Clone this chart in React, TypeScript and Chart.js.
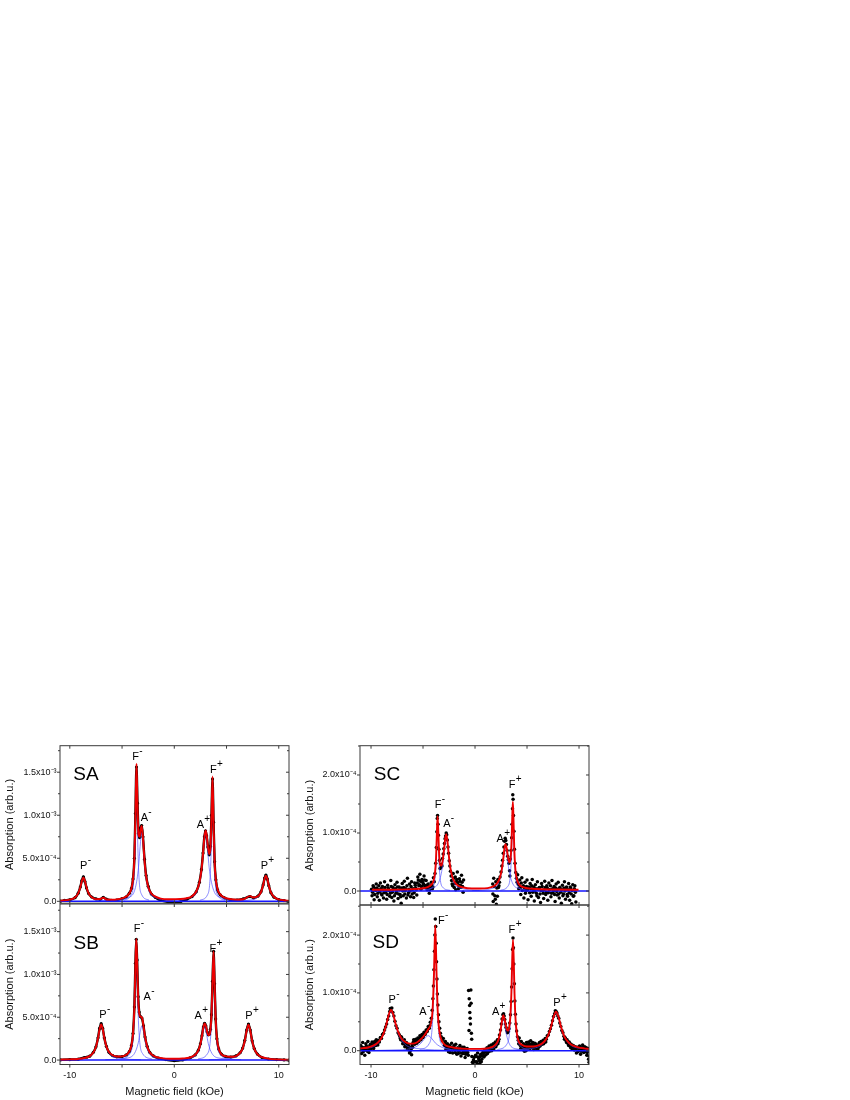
import React, { useEffect, useRef } from 'react';
import { Chart, registerables } from 'chart.js';

Chart.register(...registerables);

const FONT = "'Liberation Sans', Arial, Helvetica, sans-serif";
Chart.defaults.font.family = FONT;

type Pt = [number, number];

// ---------- shared axis data ----------
const X_MAJOR = [-10, -5, 0, 5, 10];
const X_LABEL_VALUES = [-10, 0, 10];
const X_LABELS = ['-10', '0', '10'];
const BASELINE_LEVEL = 0;

// SA / SB y axis (values in units of 1e-4)
const Y_TICKS_AB = [0, 5, 10, 15];
const Y_LABELS_AB = ['0.0', '5.0x10\u207B\u2074', '1.0x10\u207B\u00B3', '1.5x10\u207B\u00B3'];
const Y_MINOR_AB = [2.5, 7.5, 12.5, 17.5];
// SC / SD y axis (values in units of 1e-5)
const Y_TICKS_CD = [0, 10, 20];
const Y_LABELS_CD = ['0.0', '1.0x10\u207B\u2074', '2.0x10\u207B\u2074'];
const Y_MINOR_CD = [5, 15, 25];

// ---------- SA ----------
const SA_FIT: Pt[] = [
  [-10.94, 0.08], [-10.0, 0.2], [-9.5, 0.45], [-9.2, 0.92], [-9.0, 1.6], [-8.85, 2.33], [-8.7, 2.77], [-8.55, 2.34],
  [-8.4, 1.61], [-8.2, 0.93], [-7.9, 0.47], [-7.5, 0.25], [-7.1, 0.27], [-6.8, 0.42], [-6.5, 0.21], [-6.0, 0.2],
  [-5.5, 0.22], [-5.0, 0.33], [-4.6, 0.55], [-4.3, 0.93], [-4.1, 1.52], [-3.95, 2.57], [-3.82, 4.97], [-3.72, 9.88],
  [-3.62, 16.0], [-3.52, 11.1], [-3.42, 7.7], [-3.32, 7.5], [-3.22, 8.36], [-3.12, 8.77], [-3.0, 7.4], [-2.85, 4.76],
  [-2.7, 2.95], [-2.5, 1.7], [-2.2, 0.9], [-1.8, 0.55], [-1.3, 0.32], [-0.6, 0.24], [0, 0.25], [0.6, 0.26],
  [1.2, 0.36], [1.7, 0.6], [2.1, 1.14], [2.4, 2.16], [2.6, 3.66], [2.75, 5.54], [2.88, 7.42], [2.99, 8.22],
  [3.1, 7.68], [3.22, 6.36], [3.34, 5.5], [3.46, 6.2], [3.56, 9.7], [3.66, 14.5], [3.76, 8.9], [3.86, 4.5],
  [3.98, 2.45], [4.15, 1.38], [4.4, 0.8], [4.8, 0.44], [5.4, 0.25], [6.0, 0.2], [6.6, 0.24], [7.25, 0.6],
  [7.6, 0.45], [8.0, 0.58], [8.3, 1.08], [8.5, 1.87], [8.65, 2.66], [8.77, 2.97], [8.9, 2.61], [9.05, 1.82],
  [9.25, 1.04], [9.55, 0.5], [10.0, 0.23], [10.5, 0.12], [10.98, 0.07],
];
const SA_DATA: Pt[] = [
  [-10.9, 0.02], [-10.5, 0.1], [-10.0, 0.18], [-9.5, 0.42], [-9.2, 0.95], [-9.0, 1.65], [-8.85, 2.4], [-8.7, 2.85],
  [-8.55, 2.3], [-8.4, 1.55], [-8.2, 0.9], [-7.9, 0.5], [-7.5, 0.28], [-7.1, 0.22], [-6.8, 0.45], [-6.5, 0.25],
  [-6.0, 0.12], [-5.5, 0.15], [-5.0, 0.3], [-4.6, 0.52], [-4.3, 0.95], [-4.1, 1.5], [-3.95, 2.6], [-3.82, 5.0],
  [-3.72, 10.2], [-3.62, 15.6], [-3.52, 11.4], [-3.42, 7.9], [-3.32, 7.4], [-3.22, 8.5], [-3.12, 8.8], [-3.0, 7.5],
  [-2.85, 4.9], [-2.7, 3.0], [-2.5, 1.75], [-2.2, 0.85], [-1.8, 0.45], [-1.3, 0.1], [-0.6, -0.08], [0, -0.12],
  [0.6, -0.05], [1.2, 0.25], [1.7, 0.55], [2.1, 1.1], [2.4, 2.2], [2.6, 3.7], [2.75, 5.6], [2.88, 7.5],
  [2.99, 8.2], [3.1, 7.6], [3.22, 6.3], [3.34, 5.4], [3.46, 6.4], [3.56, 10.0], [3.66, 14.2], [3.76, 9.2],
  [3.86, 4.6], [3.98, 2.5], [4.15, 1.3], [4.4, 0.75], [4.8, 0.4], [5.4, 0.18], [6.0, 0.15], [6.6, 0.28],
  [7.25, 0.55], [7.6, 0.4], [8.0, 0.6], [8.3, 1.1], [8.5, 1.9], [8.65, 2.7], [8.77, 3.05], [8.9, 2.6],
  [9.05, 1.8], [9.25, 1.0], [9.55, 0.48], [10.0, 0.2], [10.5, 0.08], [10.98, -0.05],
];
const SA_P_MINUS: Pt[] = [[-12.2, 0.027], [-10.1, 0.162], [-9.4, 0.55], [-9.05, 1.375], [-8.875, 2.2], [-8.7, 2.75], [-8.525, 2.2], [-8.35, 1.375], [-8.0, 0.55], [-7.3, 0.162], [-5.2, 0.027]];
const SA_F_MINUS: Pt[] = [[-4.82, 0.139], [-4.1, 0.82], [-3.86, 2.8], [-3.74, 7.0], [-3.68, 11.2], [-3.62, 14.0], [-3.56, 11.2], [-3.5, 7.0], [-3.38, 2.8], [-3.14, 0.82], [-2.42, 0.139]];
const SA_A_MINUS: Pt[] = [[-6.12, 0.079], [-4.32, 0.47], [-3.72, 1.6], [-3.42, 4.0], [-3.27, 6.4], [-3.12, 8.0], [-2.97, 6.4], [-2.82, 4.0], [-2.52, 1.6], [-1.92, 0.47], [-0.12, 0.079]];
const SA_A_PLUS: Pt[] = [[-0.51, 0.077], [1.59, 0.459], [2.29, 1.56], [2.64, 3.9], [2.815, 6.24], [2.99, 7.8], [3.165, 6.24], [3.34, 3.9], [3.69, 1.56], [4.39, 0.459], [6.49, 0.077]];
const SA_F_PLUS: Pt[] = [[2.46, 0.127], [3.18, 0.753], [3.42, 2.56], [3.54, 6.4], [3.6, 10.24], [3.66, 12.8], [3.72, 10.24], [3.78, 6.4], [3.9, 2.56], [4.14, 0.753], [4.86, 0.127]];
const SA_P_PLUS: Pt[] = [[5.27, 0.029], [7.37, 0.173], [8.07, 0.59], [8.42, 1.475], [8.595, 2.36], [8.77, 2.95], [8.945, 2.36], [9.12, 1.475], [9.47, 0.59], [10.17, 0.173], [12.27, 0.029]];

// ---------- SB ----------
const SB_FIT: Pt[] = [
  [-10.94, 0.05], [-10.0, 0.08], [-9.2, 0.13], [-8.6, 0.24], [-8.1, 0.46], [-7.75, 0.87], [-7.5, 1.53], [-7.3, 2.56],
  [-7.15, 3.58], [-7.0, 4.16], [-6.85, 3.62], [-6.7, 2.61], [-6.5, 1.6], [-6.25, 0.94], [-5.9, 0.56], [-5.5, 0.41],
  [-5.0, 0.43], [-4.6, 0.61], [-4.3, 1.01], [-4.1, 1.73], [-3.95, 3.07], [-3.82, 6.1], [-3.72, 11.07], [-3.64, 14.15],
  [-3.56, 11.55], [-3.46, 7.28], [-3.36, 5.5], [-3.25, 5.08], [-3.1, 4.98], [-2.95, 3.99], [-2.8, 2.73], [-2.6, 1.6],
  [-2.35, 0.92], [-2.0, 0.5], [-1.5, 0.28], [-0.8, 0.17], [0, 0.15], [0.8, 0.18], [1.5, 0.3], [2.0, 0.62],
  [2.3, 1.14], [2.5, 1.88], [2.65, 2.82], [2.78, 3.8], [2.9, 4.27], [3.02, 4.0], [3.14, 3.35], [3.26, 2.92],
  [3.36, 2.94], [3.46, 3.55], [3.56, 5.24], [3.66, 9.1], [3.76, 12.7], [3.86, 8.85], [3.96, 4.77], [4.08, 2.53],
  [4.25, 1.33], [4.5, 0.7], [4.9, 0.45], [5.4, 0.38], [5.9, 0.47], [6.3, 0.83], [6.55, 1.38], [6.75, 2.26],
  [6.93, 3.46], [7.1, 4.14], [7.27, 3.45], [7.45, 2.24], [7.65, 1.34], [7.95, 0.7], [8.4, 0.33], [9.0, 0.17],
  [9.8, 0.08], [10.5, 0.05], [10.98, 0.04],
];
const SB_DATA: Pt[] = [
  [-10.9, 0.02], [-10.0, 0.06], [-9.2, 0.1], [-8.6, 0.3], [-8.35, 0.35], [-8.1, 0.45], [-7.75, 0.9], [-7.5, 1.55],
  [-7.3, 2.6], [-7.15, 3.7], [-7.0, 4.25], [-6.85, 3.7], [-6.7, 2.6], [-6.5, 1.6], [-6.25, 0.9], [-5.9, 0.52],
  [-5.5, 0.38], [-5.0, 0.4], [-4.6, 0.6], [-4.3, 1.0], [-4.1, 1.7], [-3.95, 3.1], [-3.82, 6.2], [-3.72, 11.3],
  [-3.64, 14.1], [-3.56, 11.7], [-3.46, 7.4], [-3.36, 5.6], [-3.25, 5.1], [-3.1, 4.9], [-2.95, 4.0], [-2.8, 2.7],
  [-2.6, 1.6], [-2.35, 0.9], [-2.0, 0.48], [-1.5, 0.22], [-0.8, 0.05], [0, -0.08], [0.8, 0.02], [1.5, 0.25],
  [2.0, 0.6], [2.3, 1.15], [2.5, 1.9], [2.65, 2.85], [2.78, 3.85], [2.9, 4.3], [3.02, 4.0], [3.14, 3.3],
  [3.26, 2.95], [3.36, 3.0], [3.46, 3.6], [3.56, 5.3], [3.66, 9.2], [3.76, 12.7], [3.86, 8.9], [3.96, 4.8],
  [4.08, 2.5], [4.25, 1.3], [4.5, 0.7], [4.9, 0.42], [5.4, 0.35], [5.9, 0.48], [6.3, 0.85], [6.55, 1.4],
  [6.75, 2.3], [6.93, 3.5], [7.1, 4.2], [7.27, 3.5], [7.45, 2.25], [7.65, 1.35], [7.95, 0.7], [8.4, 0.3],
  [9.0, 0.12], [9.8, 0.05], [10.5, 0.02], [10.98, -0.02],
];
const SB_P_MINUS: Pt[] = [[-10.8, 0.041], [-8.52, 0.241], [-7.76, 0.82], [-7.38, 2.05], [-7.19, 3.28], [-7.0, 4.1], [-6.81, 3.28], [-6.62, 2.05], [-6.24, 0.82], [-5.48, 0.241], [-3.2, 0.041]];
const SB_F_MINUS: Pt[] = [[-5.14, 0.128], [-4.24, 0.759], [-3.94, 2.58], [-3.79, 6.45], [-3.715, 10.32], [-3.64, 12.9], [-3.565, 10.32], [-3.49, 6.45], [-3.34, 2.58], [-3.04, 0.759], [-2.14, 0.128]];
const SB_A_MINUS: Pt[] = [[-6.6, 0.04], [-4.5, 0.235], [-3.8, 0.8], [-3.45, 2.0], [-3.275, 3.2], [-3.1, 4.0], [-2.925, 3.2], [-2.75, 2.0], [-2.4, 0.8], [-1.7, 0.235], [0.4, 0.04]];
const SB_A_PLUS: Pt[] = [[-0.6, 0.039], [1.5, 0.229], [2.2, 0.78], [2.55, 1.95], [2.725, 3.12], [2.9, 3.9], [3.075, 3.12], [3.25, 1.95], [3.6, 0.78], [4.3, 0.229], [6.4, 0.039]];
const SB_F_PLUS: Pt[] = [[2.26, 0.12], [3.16, 0.711], [3.46, 2.42], [3.61, 6.05], [3.685, 9.68], [3.76, 12.1], [3.835, 9.68], [3.91, 6.05], [4.06, 2.42], [4.36, 0.711], [5.26, 0.12]];
const SB_P_PLUS: Pt[] = [[3.3, 0.041], [5.58, 0.241], [6.34, 0.82], [6.72, 2.05], [6.91, 3.28], [7.1, 4.1], [7.29, 3.28], [7.48, 2.05], [7.86, 0.82], [8.62, 0.241], [10.9, 0.041]];

// ---------- SC ----------
const SC_FIT: Pt[] = [
  [-9.9, 0.22], [-8.0, 0.23], [-6.0, 0.32], [-5.0, 0.47], [-4.5, 0.71], [-4.2, 1.09], [-4.0, 1.74], [-3.85, 3.1],
  [-3.75, 5.59], [-3.67, 9.83], [-3.6, 12.9], [-3.53, 10.16], [-3.45, 6.35], [-3.35, 4.48], [-3.22, 4.38], [-3.1, 5.37],
  [-2.98, 7.15], [-2.88, 8.87], [-2.77, 9.8], [-2.65, 8.58], [-2.52, 6.14], [-2.38, 4.06], [-2.2, 2.53], [-1.95, 1.5],
  [-1.6, 0.9], [-1.1, 0.6], [-0.3, 0.44], [0.5, 0.43], [1.2, 0.5], [1.7, 0.75], [2.1, 1.28], [2.35, 2.1],
  [2.55, 3.46], [2.7, 5.36], [2.82, 7.2], [2.93, 8.09], [3.05, 7.33], [3.18, 5.74], [3.3, 4.94], [3.42, 5.64],
  [3.52, 8.86], [3.58, 12.8], [3.64, 15.4], [3.7, 12.4], [3.77, 7.55], [3.86, 4.19], [3.98, 2.38], [4.15, 1.41],
  [4.4, 0.88], [4.8, 0.56], [5.5, 0.39], [6.5, 0.3], [8.0, 0.25], [9.95, 0.22],
];
const SC_DATA: Pt[] = [
  [-9.9, -0.8], [-9.8, 0.9], [-9.7, -1.5], [-9.6, 0.4], [-9.5, 1.2], [-9.4, -1.0], [-9.3, 0.2], [-9.2, -1.6], [-9.1, 1.4], [-9.0, -0.5],
  [-8.9, 0.8], [-8.8, -1.2], [-8.7, 1.6], [-8.6, -0.2], [-8.5, -1.4], [-8.4, 1.0], [-8.3, 0.3], [-8.2, -0.9], [-8.1, 1.8], [-8.0, -1.1],
  [-7.9, 0.6], [-7.8, -1.7], [-7.7, 1.1], [-7.6, -0.4], [-7.5, 1.5], [-7.4, -1.3], [-7.3, 0.7], [-7.2, -0.6], [-7.1, -2.1], [-7.0, 1.3],
  [-6.9, -0.8], [-6.8, 1.7], [-6.7, 0.1], [-6.6, -1.2], [-6.5, 2.2], [-6.4, -0.3], [-6.3, 1.2], [-6.2, -1.0], [-6.1, 1.6], [-6.0, 0.2],
  [-5.9, -1.1], [-5.8, 1.4], [-5.7, 0.5], [-5.6, -0.7], [-5.5, 2.4], [-5.4, 0.9], [-5.3, 2.9], [-5.2, 0.3], [-5.1, 2.0], [-5.0, 1.0],
  [-4.9, 2.6], [-4.8, 0.6], [-4.7, 1.8], [-4.6, 0.2], [-4.5, 1.2], [-4.4, -0.4], [-4.3, 0.8], [-4.2, 1.5], [-4.1, 0.4], [-4.0, 2.3],
  [-3.92, 1.6], [-3.85, 3.0], [-3.78, 4.8], [-3.72, 7.5], [-3.67, 10.2], [-3.63, 12.5], [-3.6, 13.0], [-3.56, 11.5], [-3.52, 9.6], [-3.47, 7.2],
  [-3.42, 5.3], [-3.36, 3.9], [-3.3, 4.0], [-3.24, 4.6], [-3.18, 4.3], [-3.12, 5.6], [-3.06, 6.4], [-3.0, 7.3], [-2.94, 8.2], [-2.88, 9.0],
  [-2.83, 9.5], [-2.77, 10.0], [-2.72, 9.7], [-2.66, 8.8], [-2.6, 7.6], [-2.54, 6.5], [-2.48, 5.2], [-2.42, 4.3], [-2.36, 3.4],
  [-2.3, 2.6], [-2.2, 1.2], [-2.1, 3.0], [-2.0, 0.6], [-1.9, 2.4], [-1.8, 1.6], [-1.7, 3.3], [-1.6, 0.4], [-1.5, 2.1], [-1.4, 1.0],
  [-1.3, 2.7], [-1.2, 0.8], [-1.1, 1.9],
  [1.7, 1.2], [1.75, -1.8], [1.8, 2.2], [1.9, -0.8], [2.0, 1.6], [2.05, -2.3], [2.1, 0.5], [2.2, 2.0], [2.3, 0.9], [2.4, 2.4],
  [2.5, 3.3], [2.58, 4.3], [2.65, 5.3], [2.72, 6.5], [2.78, 7.6], [2.84, 8.6], [2.9, 9.1], [2.96, 8.7], [3.02, 8.0], [3.08, 7.0],
  [3.14, 6.0], [3.2, 5.4], [3.26, 4.8], [3.32, 3.5], [3.35, 2.6], [3.4, 5.5], [3.46, 7.0], [3.52, 9.2], [3.56, 11.5], [3.6, 14.2],
  [3.63, 16.6], [3.66, 15.8], [3.7, 13.0], [3.74, 10.3], [3.79, 7.2], [3.85, 4.8], [3.92, 3.2], [3.98, 2.2], [4.05, 1.5],
  [4.1, 2.8], [4.2, 0.4], [4.3, 1.9], [4.4, -0.6], [4.5, 2.3], [4.6, 0.8], [4.7, -1.2], [4.8, 1.5], [4.9, 0.0], [5.0, 1.9],
  [5.1, -1.5], [5.2, 0.7], [5.3, 1.3], [5.4, -0.9], [5.5, 2.0], [5.6, 0.3], [5.7, -1.7], [5.8, 1.1], [5.9, -0.4], [6.0, 1.6],
  [6.1, -1.1], [6.2, 0.6], [6.3, -2.0], [6.4, 1.3], [6.5, 0.1], [6.6, -1.3], [6.7, 1.7], [6.8, -0.6], [6.9, 0.9], [7.0, -1.6],
  [7.1, 1.4], [7.2, 0.2], [7.3, -1.0], [7.4, 1.8], [7.5, -0.3], [7.6, 0.8], [7.7, -1.8], [7.8, 1.2], [7.9, -0.7], [8.0, 1.5],
  [8.1, -1.2], [8.2, 0.4], [8.3, -2.1], [8.4, 1.0], [8.5, -0.5], [8.6, 1.6], [8.7, -1.4], [8.8, 0.7], [8.9, -0.9], [9.0, 1.3],
  [9.1, -1.6], [9.2, 0.5], [9.3, -2.2], [9.4, 1.1], [9.5, -0.8], [9.6, 0.9], [9.7, -1.9],
];
// further scattered points of the SC noise cloud
const SC_DATA_CLOUD: Pt[] = [
  [-9.95, 0.3], [-9.85, -0.2], [-9.75, 0.7], [-9.65, -0.6], [-9.55, 0.1], [-9.45, 0.5], [-9.35, -0.4], [-9.25, 0.9], [-9.15, -0.1], [-9.05, 0.4],
  [-8.95, -0.7], [-8.85, 0.2], [-8.75, -0.3], [-8.65, 0.6], [-8.55, 0.0], [-8.45, -0.6], [-8.35, 0.5], [-8.25, 0.1], [-8.15, -0.4], [-8.05, 0.8],
  [-7.95, -0.2], [-7.85, 0.3], [-7.75, -0.8], [-7.65, 0.4], [-7.55, -0.1], [-7.45, 0.7], [-7.35, -0.5], [-7.25, 0.2], [-7.15, -1.0], [-7.05, 0.5],
  [-6.95, 0.0], [-6.85, 0.6], [-6.75, -0.5], [-6.65, 0.4], [-6.55, 0.9], [-6.45, -0.7], [-6.35, 0.3], [-6.25, 0.0], [-6.15, 0.8], [-6.05, -0.5],
  [-5.95, 0.4], [-5.85, -0.3], [-5.75, 1.0], [-5.65, 0.2], [-5.55, 1.4], [-5.45, 1.9], [-5.35, 1.1], [-5.25, 1.7], [-5.15, 0.8], [-5.05, 1.5],
  [-4.95, 1.2], [-4.85, 1.9], [-4.75, 0.9], [-4.65, 1.0], [-4.55, 0.5], [-4.45, 0.8], [-4.35, 0.2], [-4.25, 0.6], [-4.15, 1.1], [-4.05, 0.7],
  [-2.25, 1.8], [-2.15, 0.9], [-2.05, 2.2], [-1.95, 1.3], [-1.85, 0.2], [-1.75, 2.0], [-1.65, 1.4], [-1.55, 0.9], [-1.45, 1.7], [-1.35, 0.6],
  [-1.25, 1.5], [-1.15, -0.2],
  [1.72, -0.5], [1.85, 0.8], [1.95, -1.4], [2.15, -0.9], [2.25, 0.6], [2.35, 1.5],
  [4.15, 1.2], [4.25, 1.0], [4.35, 0.5], [4.45, 1.4], [4.55, 0.1], [4.65, 0.9], [4.75, 0.3], [4.85, -0.4], [4.95, 0.8], [5.05, 0.2],
  [5.15, 0.6], [5.25, -0.3], [5.35, 0.4], [5.45, 0.9], [5.55, -0.2], [5.65, 0.7], [5.75, 0.0], [5.85, 0.4], [5.95, -0.8], [6.05, 0.3],
  [6.15, 0.5], [6.25, -0.5], [6.35, 0.1], [6.45, 0.8], [6.55, -0.4], [6.65, 0.2], [6.75, 0.6], [6.85, -0.2], [6.95, 0.5], [7.05, -0.3],
  [7.15, 0.2], [7.25, 0.9], [7.35, -0.4], [7.45, 0.4], [7.55, 0.1], [7.65, -0.6], [7.75, 0.5], [7.85, -0.1], [7.95, 0.3], [8.05, -0.5],
  [8.15, 0.6], [8.25, -0.2], [8.35, 0.2], [8.45, -0.8], [8.55, 0.5], [8.65, 0.0], [8.75, 0.4], [8.85, -0.6], [8.95, 0.2], [9.05, -0.3],
  [9.15, 0.7], [9.25, -0.5], [9.35, 0.1], [9.45, -0.9], [9.55, 0.4], [9.65, -0.2],
];
const SC_F_MINUS: Pt[] = [[-4.8, 0.114], [-4.08, 0.676], [-3.84, 2.3], [-3.72, 5.75], [-3.66, 9.2], [-3.6, 11.5], [-3.54, 9.2], [-3.48, 5.75], [-3.36, 2.3], [-3.12, 0.676], [-2.4, 0.114]];
const SC_A_MINUS: Pt[] = [[-5.97, 0.093], [-4.05, 0.55], [-3.41, 1.87], [-3.09, 4.68], [-2.93, 7.49], [-2.77, 9.36], [-2.61, 7.49], [-2.45, 4.68], [-2.13, 1.87], [-1.49, 0.55], [0.43, 0.093]];
const SC_A_PLUS: Pt[] = [[-0.27, 0.074], [1.65, 0.441], [2.29, 1.5], [2.61, 3.75], [2.77, 6.0], [2.93, 7.5], [3.09, 6.0], [3.25, 3.75], [3.57, 1.5], [4.21, 0.441], [6.13, 0.074]];
const SC_F_PLUS: Pt[] = [[2.44, 0.138], [3.16, 0.817], [3.4, 2.78], [3.52, 6.95], [3.58, 11.12], [3.64, 13.9], [3.7, 11.12], [3.76, 6.95], [3.88, 2.78], [4.12, 0.817], [4.84, 0.138]];

// ---------- SD ----------
const SD_FIT: Pt[] = [
  [-11.06, 0.4], [-10.3, 0.56], [-9.7, 0.95], [-9.3, 1.47], [-9.0, 2.18], [-8.75, 3.19], [-8.5, 4.73], [-8.3, 6.17],
  [-8.08, 7.04], [-7.86, 6.25], [-7.65, 4.76], [-7.4, 3.29], [-7.1, 2.2], [-6.8, 1.62], [-6.4, 1.27], [-6.0, 1.23],
  [-5.6, 1.42], [-5.2, 2.01], [-4.85, 2.71], [-4.5, 3.71], [-4.25, 4.6], [-4.08, 7.1], [-3.95, 13.1], [-3.82, 21.7],
  [-3.7, 13.4], [-3.58, 6.6], [-3.42, 3.3], [-3.2, 1.75], [-2.9, 1.0], [-2.5, 0.7], [-2.0, 0.5], [-1.2, 0.35],
  [0, 0.31], [0.9, 0.34], [1.6, 0.6], [2.0, 1.08], [2.25, 1.9], [2.42, 3.12], [2.56, 4.72], [2.72, 6.16],
  [2.88, 5.14], [3.02, 3.9], [3.15, 3.48], [3.28, 3.97], [3.4, 5.94], [3.5, 10.12], [3.58, 15.98], [3.65, 19.2],
  [3.72, 15.83], [3.8, 9.8], [3.9, 5.37], [4.02, 3.01], [4.2, 1.61], [4.5, 1.03], [5.0, 0.72], [5.6, 0.73],
  [6.1, 0.91], [6.5, 1.32], [6.8, 1.91], [7.05, 2.74], [7.3, 4.07], [7.55, 5.8], [7.79, 6.75], [8.03, 5.8],
  [8.28, 4.05], [8.53, 2.7], [8.78, 1.88], [9.1, 1.24], [9.5, 0.82], [10.0, 0.54], [10.5, 0.4], [10.96, 0.32],
];
const SD_DATA: Pt[] = [
  [-11.0, 0.9], [-10.9, -0.5], [-10.8, 1.4], [-10.7, 0.2], [-10.6, -0.8], [-10.5, 1.2], [-10.4, 0.4], [-10.3, 1.6], [-10.2, -0.3], [-10.1, 0.9],
  [-10.0, 0.3], [-9.9, 1.5], [-9.8, 0.6], [-9.7, 1.3], [-9.6, 0.9], [-9.5, 1.9], [-9.4, 1.2], [-9.3, 1.8], [-9.2, 1.5], [-9.1, 2.3],
  [-9.0, 2.1], [-8.9, 2.8], [-8.8, 3.0], [-8.7, 3.6], [-8.6, 4.1], [-8.5, 4.6], [-8.4, 5.4], [-8.3, 6.0], [-8.2, 6.8], [-8.15, 7.3],
  [-8.1, 7.0], [-8.0, 7.4], [-7.9, 6.6], [-7.8, 6.0], [-7.7, 5.1], [-7.6, 4.3], [-7.5, 3.9], [-7.4, 3.1], [-7.3, 2.8], [-7.2, 2.2],
  [-7.1, 2.4], [-7.0, 1.8], [-6.9, 1.5], [-6.8, 1.9], [-6.7, 1.0], [-6.6, 1.4], [-6.5, 0.2], [-6.4, 0.9], [-6.3, -0.4], [-6.2, 0.5],
  [-6.1, -0.7], [-6.0, 0.6], [-5.9, 1.9], [-5.8, 1.1], [-5.7, 2.0], [-5.6, 1.3], [-5.5, 2.2], [-5.4, 1.6], [-5.3, 2.6], [-5.2, 1.9],
  [-5.1, 2.8], [-5.0, 2.3], [-4.9, 3.2], [-4.8, 2.8], [-4.7, 3.6], [-4.6, 3.3], [-4.5, 4.2], [-4.4, 3.9], [-4.3, 4.9], [-4.2, 5.6],
  [-4.12, 7.0], [-4.05, 9.0], [-4.0, 11.2], [-3.95, 14.0], [-3.9, 17.2], [-3.86, 20.0], [-3.82, 22.8], [-3.78, 21.5], [-3.74, 18.6], [-3.7, 15.4],
  [-3.66, 12.4], [-3.62, 9.8], [-3.57, 7.9], [-3.52, 6.2], [-3.47, 5.0], [-3.4, 3.9], [-3.33, 3.0], [-3.25, 2.4], [-3.15, 1.7], [-3.05, 2.1],
  [-2.95, 0.9], [-2.85, 1.6], [-2.75, 0.5], [-2.65, 1.2], [-2.55, -0.2], [-2.45, 0.9], [-2.35, 0.2], [-2.25, 1.3], [-2.15, -0.4], [-2.05, 0.7],
  [-1.95, 0.1], [-1.85, 1.1], [-1.75, -0.6], [-1.65, 0.5], [-1.55, -0.1], [-1.45, 0.9], [-1.35, -0.9], [-1.25, 0.3], [-1.15, -0.5], [-1.05, 0.6],
  [-0.95, -1.2], [-0.85, -0.2], [-0.75, 0.4], [-0.65, -0.8],
  [-0.62, 10.4], [-0.58, 3.5], [-0.56, 9.0], [-0.52, 7.8], [-0.5, 6.6], [-0.47, 5.6], [-0.44, 4.6], [-0.4, 10.5], [-0.38, 8.2], [-0.35, 3.0],
  [-0.32, 2.0], [-0.3, -1.0], [-0.25, -2.0], [-0.2, -2.4],
  [-0.15, -1.6], [-0.05, -2.5], [0.05, -0.8], [0.15, -1.9], [0.25, -0.4], [0.35, -1.4], [0.45, -2.2], [0.55, -0.6], [0.65, -1.5], [0.75, -0.3],
  [0.85, -1.1], [0.95, 0.2], [1.05, -0.7], [1.15, 0.5], [1.25, -0.2], [1.35, 0.8], [1.45, 0.1], [1.55, 1.0], [1.65, 0.4], [1.75, 1.2],
  [1.85, 0.7], [1.95, 1.5], [2.05, 1.0], [2.15, 1.9], [2.25, 1.6], [2.35, 2.7], [2.45, 3.6], [2.52, 4.6], [2.6, 5.5], [2.68, 6.2],
  [2.74, 6.4], [2.8, 6.0], [2.86, 5.4], [2.92, 4.6], [2.98, 4.0], [3.05, 3.5], [3.12, 3.1], [3.2, 3.3], [3.27, 3.8], [3.34, 4.8],
  [3.41, 6.2], [3.47, 8.5], [3.52, 11.0], [3.57, 14.2], [3.61, 17.5], [3.65, 19.5], [3.69, 17.8], [3.73, 15.0], [3.78, 11.6], [3.83, 8.6],
  [3.88, 6.3], [3.94, 4.6], [4.0, 3.4], [4.08, 2.4], [4.16, 1.8], [4.25, 2.2], [4.35, 0.9], [4.45, 1.6], [4.55, 0.3], [4.65, 1.2],
  [4.75, -0.1], [4.85, 0.9], [4.95, 1.4], [5.05, 0.4], [5.15, 1.5], [5.25, 0.8], [5.35, 1.7], [5.45, 0.6], [5.55, 1.4], [5.65, 0.2],
  [5.75, 1.3], [5.85, 0.6], [5.95, 1.0], [6.05, 0.3], [6.15, 1.2], [6.25, 0.8], [6.35, 1.6], [6.45, 1.1], [6.55, 1.8], [6.65, 1.4],
  [6.75, 2.1], [6.85, 2.0], [6.95, 2.6], [7.05, 2.7], [7.15, 3.3], [7.25, 3.8], [7.35, 4.4], [7.45, 5.2], [7.55, 5.9], [7.65, 6.4],
  [7.72, 6.9], [7.8, 6.8], [7.88, 6.5], [7.96, 6.0], [8.05, 5.6], [8.15, 4.8], [8.25, 4.2], [8.35, 3.5], [8.45, 3.1], [8.55, 2.5],
  [8.65, 2.3], [8.75, 1.7], [8.85, 1.9], [8.95, 1.2], [9.05, 1.5], [9.15, 0.8], [9.25, 1.1], [9.35, 0.3], [9.45, 0.9], [9.55, 0.1],
  [9.65, 0.7], [9.75, -0.4], [9.85, 0.6], [9.95, 0.0], [10.05, 0.8], [10.15, -0.6], [10.25, 0.5], [10.35, 1.0], [10.45, -0.3], [10.55, 0.7],
  [10.65, 0.2], [10.75, -0.8], [10.85, 0.4], [10.92, -1.5], [10.97, -2.0],
];
// further scattered points of the SD noise band
const SD_DATA_CLOUD: Pt[] = [
  [-10.95, 0.2], [-10.85, 0.6], [-10.75, -0.2], [-10.65, 0.5], [-10.55, 0.1], [-10.45, 0.8], [-10.35, -0.1], [-10.25, 0.6], [-10.15, 0.3], [-10.05, 1.1],
  [-9.95, 0.5], [-9.85, 1.0], [-9.75, 0.4], [-9.65, 1.6], [-9.55, 0.9], [-9.45, 1.4], [-9.35, 1.0],
  [-7.25, 2.6], [-7.15, 1.9], [-7.05, 2.3], [-6.95, 1.2], [-6.85, 1.4], [-6.75, 0.7], [-6.65, 1.1], [-6.55, 0.6], [-6.45, 0.3], [-6.35, 0.6],
  [-6.25, -0.2], [-6.15, 0.2], [-6.05, 1.0], [-5.95, 1.4], [-5.85, 1.6], [-5.75, 1.5], [-5.65, 1.8], [-5.55, 1.7], [-5.45, 2.0], [-5.35, 2.1],
  [-5.25, 2.4], [-5.15, 2.2], [-5.05, 2.7], [-4.95, 2.6], [-4.85, 3.0], [-4.75, 3.1], [-4.65, 3.5], [-4.55, 3.7], [-4.45, 4.0], [-4.35, 4.3],
  [-2.9, 1.2], [-2.8, 0.2], [-2.7, 0.8], [-2.6, 0.4], [-2.5, 0.5], [-2.4, -0.3], [-2.3, 0.6], [-2.2, 0.1], [-2.1, 0.3], [-2.0, 0.9],
  [-1.9, -0.3], [-1.8, 0.4], [-1.7, 0.1], [-1.6, -0.5], [-1.5, 0.4], [-1.4, 0.2], [-1.3, -0.4], [-1.2, 0.6], [-1.1, -0.2], [-1.0, 0.1],
  [-0.9, -0.6], [-0.8, 0.3], [-0.7, -0.3],
  [-0.1, -1.2], [0.0, -1.9], [0.1, -1.0], [0.2, -2.3], [0.3, -1.1], [0.4, -1.7], [0.5, -1.0], [0.6, -1.9], [0.7, -0.9], [0.8, -0.5],
  [0.9, -0.9], [1.0, -0.2], [1.1, 0.1], [1.2, -0.5], [1.3, 0.4], [1.4, -0.1], [1.5, 0.5], [1.6, 0.0], [1.7, 0.8], [1.8, 0.3],
  [1.9, 1.1], [2.0, 0.7], [2.1, 1.3], [2.2, 1.2], [2.3, 2.0],
  [4.2, 1.2], [4.3, 1.6], [4.4, 0.4], [4.5, 0.9], [4.6, 0.8], [4.7, 0.3], [4.8, 0.5], [4.9, 0.0], [5.0, 1.0], [5.1, 0.7],
  [5.2, 1.2], [5.3, 0.4], [5.4, 1.1], [5.5, 1.0], [5.6, 0.7], [5.7, 0.9], [5.8, 1.2], [5.9, 0.4], [6.0, 0.8], [6.1, 0.6],
  [6.2, 1.4], [6.3, 1.0], [6.4, 1.3], [6.5, 1.6], [6.6, 1.2], [6.7, 1.7], [6.8, 1.5],
  [8.6, 2.0], [8.7, 2.1], [8.8, 1.4], [8.9, 1.6], [9.0, 0.9], [9.1, 1.3], [9.2, 0.5], [9.3, 0.9], [9.4, 0.6], [9.5, 0.5],
  [9.6, 0.3], [9.7, 0.2], [9.8, 0.5], [9.9, -0.2], [10.0, 0.4], [10.1, 0.3], [10.2, -0.1], [10.3, 0.2], [10.4, 0.5], [10.5, 0.1],
  [10.6, -0.2], [10.7, 0.5], [10.8, -0.3], [10.9, 0.0], [10.95, -0.9],
];
const SD_P_MINUS: Pt[] = [[-14.08, 0.067], [-10.48, 0.4], [-9.28, 1.36], [-8.68, 3.4], [-8.38, 5.44], [-8.08, 6.8], [-7.78, 5.44], [-7.48, 3.4], [-6.88, 1.36], [-5.68, 0.4], [-2.08, 0.067]];
const SD_A_MINUS: Pt[] = [[-11.5, 0.026], [-7.3, 0.153], [-5.9, 0.52], [-5.2, 1.3], [-4.85, 2.08], [-4.5, 2.6], [-4.15, 2.08], [-3.8, 1.3], [-3.1, 0.52], [-1.7, 0.153], [2.5, 0.026]];
const SD_F_MINUS: Pt[] = [[-5.32, 0.198], [-4.42, 1.176], [-4.12, 4.0], [-3.97, 10.0], [-3.895, 16.0], [-3.82, 20.0], [-3.745, 16.0], [-3.67, 10.0], [-3.52, 4.0], [-3.22, 1.176], [-2.32, 0.198]];
const SD_A_PLUS: Pt[] = [[-0.28, 0.055], [1.52, 0.329], [2.12, 1.12], [2.42, 2.8], [2.57, 4.48], [2.72, 5.6], [2.87, 4.48], [3.02, 2.8], [3.32, 1.12], [3.92, 0.329], [5.72, 0.055]];
const SD_F_PLUS: Pt[] = [[2.15, 0.184], [3.05, 1.094], [3.35, 3.72], [3.5, 9.3], [3.575, 14.88], [3.65, 18.6], [3.725, 14.88], [3.8, 9.3], [3.95, 3.72], [4.25, 1.094], [5.15, 0.184]];
const SD_P_PLUS: Pt[] = [[1.79, 0.065], [5.39, 0.388], [6.59, 1.32], [7.19, 3.3], [7.49, 5.28], [7.79, 6.6], [8.09, 5.28], [8.39, 3.3], [8.99, 1.32], [10.19, 0.388], [13.79, 0.065]];

// ---------- text annotations (data coordinates) ----------
type PeakLabel = { base: string; sup: string; x: number; y: number };
const SA_LABELS: PeakLabel[] = [
  { base: 'P', sup: '-', x: -9.02, y: 3.72 },
  { base: 'F', sup: '-', x: -4.02, y: 16.43 },
  { base: 'A', sup: '-', x: -3.22, y: 9.34 },
  { base: 'A', sup: '+', x: 2.14, y: 8.49 },
  { base: 'F', sup: '+', x: 3.42, y: 14.88 },
  { base: 'P', sup: '+', x: 8.27, y: 3.72 },
];
const SB_LABELS: PeakLabel[] = [
  { base: 'P', sup: '-', x: -7.18, y: 4.96 },
  { base: 'F', sup: '-', x: -3.89, y: 14.92 },
  { base: 'A', sup: '-', x: -2.94, y: 6.98 },
  { base: 'A', sup: '+', x: 1.94, y: 4.85 },
  { base: 'F', sup: '+', x: 3.38, y: 12.6 },
  { base: 'P', sup: '+', x: 6.8, y: 4.85 },
];
const SC_LABELS: PeakLabel[] = [
  { base: 'F', sup: '-', x: -3.87, y: 14.26 },
  { base: 'A', sup: '-', x: -3.06, y: 10.98 },
  { base: 'A', sup: '+', x: 2.07, y: 8.5 },
  { base: 'F', sup: '+', x: 3.25, y: 17.7 },
];
const SD_LABELS: PeakLabel[] = [
  { base: 'P', sup: '-', x: -8.31, y: 8.2 },
  { base: 'A', sup: '-', x: -5.36, y: 6.18 },
  { base: 'F', sup: '-', x: -3.56, y: 22.0 },
  { base: 'A', sup: '+', x: 1.63, y: 6.18 },
  { base: 'F', sup: '+', x: 3.23, y: 20.3 },
  { base: 'P', sup: '+', x: 7.53, y: 7.8 },
];

// ---------- panel specs ----------
interface PanelSpec {
  name: string;
  left: number; top: number; width: number; height: number;
  pad: { top: number; right: number; bottom: number; left: number };
  xMin: number; xMax: number; yMin: number; yMax: number;
  yTicks: number[]; yLabels: string[]; yMinor: number[];
  showX: boolean; xAxisHeight: number;
  fit: Pt[]; data: Pt[]; dataAsLine: boolean; components: Pt[][];
  labels: PeakLabel[]; panel: { text: string; x: number; y: number };
}

const PANELS: PanelSpec[] = [
  {
    name: 'SA', left: 0, top: 740, width: 300, height: 170,
    pad: { top: 5.7, right: 11, bottom: 6.8, left: 0 },
    xMin: -10.94, xMax: 10.98, yMin: -0.22, yMax: 18.08,
    yTicks: Y_TICKS_AB, yLabels: Y_LABELS_AB, yMinor: Y_MINOR_AB,
    showX: false, xAxisHeight: 0,
    fit: SA_FIT, data: SA_DATA, dataAsLine: true,
    components: [SA_P_MINUS, SA_F_MINUS, SA_A_MINUS, SA_A_PLUS, SA_F_PLUS, SA_P_PLUS],
    labels: SA_LABELS, panel: { text: 'SA', x: -9.67, y: 14.1 },
  },
  {
    name: 'SB', left: 0, top: 900, width: 300, height: 200,
    pad: { top: 3.2, right: 11, bottom: 0, left: 0 },
    xMin: -10.94, xMax: 10.98, yMin: -0.52, yMax: 18.23,
    yTicks: Y_TICKS_AB, yLabels: Y_LABELS_AB, yMinor: Y_MINOR_AB,
    showX: true, xAxisHeight: 35.5,
    fit: SB_FIT, data: SB_DATA, dataAsLine: true,
    components: [SB_P_MINUS, SB_F_MINUS, SB_A_MINUS, SB_A_PLUS, SB_F_PLUS, SB_P_PLUS],
    labels: SB_LABELS, panel: { text: 'SB', x: -9.64, y: 12.99 },
  },
  {
    name: 'SC', left: 300, top: 740, width: 300, height: 170,
    pad: { top: 5.7, right: 11, bottom: 5, left: 0 },
    xMin: -11.06, xMax: 10.96, yMin: -2.41, yMax: 25.05,
    yTicks: Y_TICKS_CD, yLabels: Y_LABELS_CD, yMinor: Y_MINOR_CD,
    showX: false, xAxisHeight: 0,
    fit: SC_FIT, data: [...SC_DATA, ...SC_DATA_CLOUD], dataAsLine: false,
    components: [SC_F_MINUS, SC_A_MINUS, SC_A_PLUS, SC_F_PLUS],
    labels: SC_LABELS, panel: { text: 'SC', x: -9.73, y: 19.14 },
  },
  {
    name: 'SD', left: 300, top: 900, width: 300, height: 200,
    pad: { top: 5, right: 11, bottom: 0, left: 0 },
    xMin: -11.06, xMax: 10.96, yMin: -2.39, yMax: 25.21,
    yTicks: Y_TICKS_CD, yLabels: Y_LABELS_CD, yMinor: Y_MINOR_CD,
    showX: true, xAxisHeight: 35.5,
    fit: SD_FIT, data: [...SD_DATA, ...SD_DATA_CLOUD], dataAsLine: false,
    components: [SD_P_MINUS, SD_A_MINUS, SD_F_MINUS, SD_A_PLUS, SD_F_PLUS, SD_P_PLUS],
    labels: SD_LABELS, panel: { text: 'SD', x: -9.85, y: 17.7 },
  },
];

const FRAME_COLOR = '#3a3a3a';
const TEXT_COLOR = '#111';
const toXY = (pts: Pt[]) => pts.map(([x, y]) => ({ x, y }));

function makeFramePlugin(spec: PanelSpec) {
  return {
    id: 'frame' + spec.name,
    afterDraw(chart: any) {
      const { ctx, chartArea: a } = chart;
      const xs = chart.scales.x;
      const ys = chart.scales.y;
      ctx.save();
      ctx.strokeStyle = FRAME_COLOR;
      ctx.lineWidth = 1;
      ctx.strokeRect(a.left, a.top, a.right - a.left, a.bottom - a.top);
      ctx.beginPath();
      for (const v of X_MAJOR) {
        const px = xs.getPixelForValue(v);
        if (px < a.left || px > a.right) continue;
        ctx.moveTo(px, a.top);
        ctx.lineTo(px, a.top + 3);
        ctx.moveTo(px, a.bottom);
        ctx.lineTo(px, spec.showX ? a.bottom + 3 : a.bottom - 3);
      }
      for (const v of spec.yTicks) {
        const py = ys.getPixelForValue(v);
        ctx.moveTo(a.left - 3, py);
        ctx.lineTo(a.left, py);
        ctx.moveTo(a.right, py);
        ctx.lineTo(a.right - 3, py);
      }
      for (const v of spec.yMinor) {
        if (v < spec.yMin || v > spec.yMax) continue;
        const py = ys.getPixelForValue(v);
        ctx.moveTo(a.left - 2, py);
        ctx.lineTo(a.left, py);
        ctx.moveTo(a.right, py);
        ctx.lineTo(a.right - 2, py);
      }
      ctx.stroke();

      ctx.fillStyle = '#000';
      ctx.textAlign = 'left';
      ctx.textBaseline = 'alphabetic';
      ctx.font = `19px ${FONT}`;
      ctx.fillText(spec.panel.text, xs.getPixelForValue(spec.panel.x), ys.getPixelForValue(spec.panel.y));
      for (const l of spec.labels) {
        const px = xs.getPixelForValue(l.x);
        const py = ys.getPixelForValue(l.y);
        ctx.font = `11px ${FONT}`;
        ctx.fillText(l.base, px, py);
        const w = ctx.measureText(l.base).width;
        ctx.font = `10px ${FONT}`;
        ctx.fillText(l.sup, px + w + 0.3, py - 6);
      }
      ctx.restore();
    },
  };
}

function buildConfig(spec: PanelSpec): any {
  const datasets: any[] = [];
  datasets.push({
    label: 'fit',
    data: toXY(spec.fit),
    borderColor: 'rgb(235,0,0)',
    borderWidth: 1.9,
    pointRadius: 0,
    cubicInterpolationMode: 'monotone',
    order: 0,
  });
  datasets.push({
    label: 'baseline',
    data: [{ x: spec.xMin, y: BASELINE_LEVEL }, { x: spec.xMax, y: BASELINE_LEVEL }],
    borderColor: '#1414ff',
    borderWidth: 1.4,
    pointRadius: 0,
    order: 1,
  });
  spec.components.forEach((c, i) => {
    datasets.push({
      label: 'component' + i,
      data: toXY(c),
      borderColor: 'rgba(70,70,255,0.8)',
      borderWidth: 0.8,
      pointRadius: 0,
      cubicInterpolationMode: 'monotone',
      order: 2,
    });
  });
  if (spec.dataAsLine) {
    datasets.push({
      label: 'data',
      data: toXY(spec.data),
      borderColor: '#000',
      borderWidth: 2.4,
      pointRadius: 1.6,
      pointBorderWidth: 0,
      pointBackgroundColor: '#000',
      cubicInterpolationMode: 'monotone',
      order: 3,
    });
  } else {
    datasets.push({
      label: 'data',
      data: toXY(spec.data),
      showLine: false,
      borderColor: '#000',
      pointRadius: 1.75,
      pointBorderWidth: 0,
      pointBackgroundColor: '#000',
      order: 3,
    });
  }

  return {
    type: 'line',
    data: { datasets },
    options: {
      animation: false,
      responsive: false,
      maintainAspectRatio: false,
      events: [],
      layout: { padding: spec.pad },
      plugins: { legend: { display: false }, tooltip: { enabled: false } },
      scales: {
        x: {
          type: 'linear',
          min: spec.xMin,
          max: spec.xMax,
          display: spec.showX,
          grid: { display: false, drawTicks: false },
          border: { display: false },
          afterBuildTicks: (s: any) => {
            s.ticks = X_LABEL_VALUES.map((v) => ({ value: v }));
          },
          ticks: {
            autoSkip: false,
            maxRotation: 0,
            padding: 5.5,
            color: TEXT_COLOR,
            font: { size: 9, family: FONT },
            callback: (v: number) => X_LABELS[X_LABEL_VALUES.indexOf(v)] ?? '',
          },
          title: {
            display: true,
            text: 'Magnetic field (kOe)',
            color: TEXT_COLOR,
            font: { size: 11, family: FONT },
            padding: { top: 0, bottom: 1.4 },
          },
          afterFit: (s: any) => {
            s.height = spec.xAxisHeight;
            s.paddingLeft = 0;
            s.paddingRight = 0;
          },
        },
        y: {
          type: 'linear',
          min: spec.yMin,
          max: spec.yMax,
          grid: { display: false, drawTicks: false },
          border: { display: false },
          afterBuildTicks: (s: any) => {
            s.ticks = spec.yTicks.map((v) => ({ value: v }));
          },
          ticks: {
            autoSkip: false,
            padding: 3.5,
            color: TEXT_COLOR,
            font: { size: 9, family: FONT },
            callback: (v: number) => spec.yLabels[spec.yTicks.indexOf(v)] ?? '',
          },
          title: {
            display: true,
            text: 'Absorption (arb.u.)',
            color: TEXT_COLOR,
            font: { size: 11, family: FONT },
            padding: { top: 3.4, bottom: 0 },
          },
          afterFit: (s: any) => {
            s.width = 60;
            s.paddingTop = 0;
            s.paddingBottom = 0;
          },
        },
      },
    },
    plugins: [makeFramePlugin(spec)],
  };
}

function Panel({ spec }: { spec: PanelSpec }) {
  const ref = useRef<HTMLCanvasElement>(null);
  useEffect(() => {
    if (!ref.current) return;
    const chart = new Chart(ref.current, buildConfig(spec));
    return () => chart.destroy();
  }, [spec]);
  return (
    <canvas
      ref={ref}
      width={spec.width}
      height={spec.height}
      style={{ position: 'absolute', left: spec.left, top: spec.top, width: spec.width, height: spec.height }}
    />
  );
}

export default function App() {
  return (
    <div style={{ position: 'absolute', left: 0, top: 0, width: 850, height: 1100, background: '#fff' }}>
      {PANELS.map((p) => (
        <Panel key={p.name} spec={p} />
      ))}
    </div>
  );
}
